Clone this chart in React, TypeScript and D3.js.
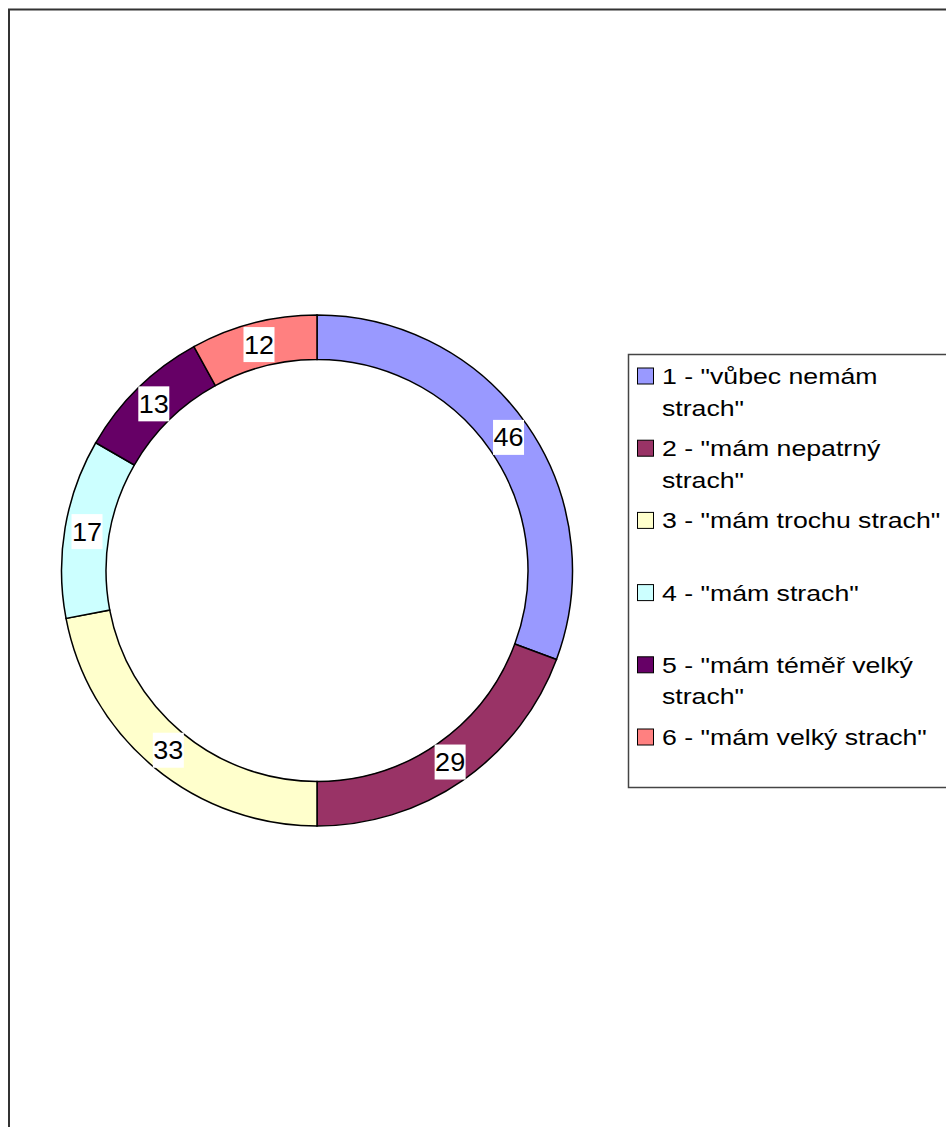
import React from "react";
import * as d3 from "d3";

const categories = [
  ["1 - \"vůbec nemám", "strach\""],
  ["2 - \"mám nepatrný", "strach\""],
  ["3 - \"mám trochu strach\""],
  ["4 - \"mám strach\""],
  ["5 - \"mám téměř velký", "strach\""],
  ["6 - \"mám velký strach\""],
];
const values = [46, 29, 33, 17, 13, 12];
const colors = ["#9999FF", "#993366", "#FFFFCC", "#CCFFFF", "#660066", "#FF8080"];

export default function App() {
  const cx = 317;
  const cy = 570.5;
  const rOuter = 255.5;
  const rInner = 211;
  const pie = d3.pie<number>().sort(null).value((d) => d)(values);
  const arc = d3.arc<d3.PieArcDatum<number>>().innerRadius(rInner).outerRadius(rOuter);
  const legendY = d3.scaleLinear().domain([0, 5]).range([376, 737]);
  const font = "'Liberation Sans', Arial, Helvetica, sans-serif";
  return (
    <svg
      width={946}
      height={1127}
      style={{ position: "absolute", left: 0, top: 0, background: "#fff" }}
    >
      <rect x={9} y={9.5} width={1000} height={1200} fill="#fff" stroke="#333" strokeWidth={2} />
      <g transform={`translate(${cx},${cy})`}>
        {pie.map((p, i) => (
          <path key={i} d={arc(p) || ""} fill={colors[i]} stroke="#000" strokeWidth={1.5} />
        ))}
        {pie.map((p, i) => {
          const [x, y] = arc.centroid(p);
          const label = String(values[i]);
          const w = label.length * 14.5 + 2;
          return (
            <g key={"l" + i}>
              <rect x={x - w / 2} y={y - 17.5} width={w} height={35} fill="#fff" />
              <text
                transform={`translate(${x},${y + 9}) scale(1.08,1)`}
                textAnchor="middle"
                fontFamily={font}
                fontSize={25}
                fill="#000"
              >
                {label}
              </text>
            </g>
          );
        })}
      </g>
      <rect x={628.5} y={354.5} width={400} height={433} fill="#fff" stroke="#444" strokeWidth={1.5} />
      {categories.map((lines, i) => {
        const c = legendY(i);
        return (
          <g key={"g" + i}>
            <rect x={637.5} y={c - 8} width={16} height={16} fill={colors[i]} stroke="#000" strokeWidth={1} />
            {lines.map((ln, j) => (
              <text
                key={j}
                transform={`translate(662,${c + 8 + j * 31.5}) scale(1.17,1)`}
                fontFamily={font}
                fontSize={22.8}
                fill="#000"
              >
                {ln}
              </text>
            ))}
          </g>
        );
      })}
    </svg>
  );
}
